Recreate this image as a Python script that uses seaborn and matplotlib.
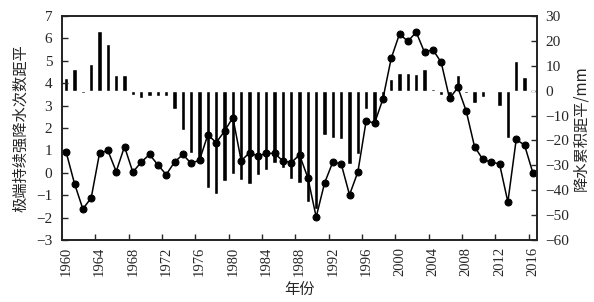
import numpy as np
import pandas as pd
import matplotlib
matplotlib.use("Agg")
import matplotlib.pyplot as plt
import seaborn as sns

years = list(range(1960, 2017))

# 极端持续强降水次数距平 (left axis, line)
count_anomaly = [0.92, -0.48, -1.61, -1.12, 0.87, 1.00, 0.06, 1.17, 0.03, 0.48,
                 0.82, 0.36, -0.08, 0.48, 0.82, 0.42, 0.57, 1.70, 1.35, 1.86,
                 2.47, 0.54, 0.90, 0.75, 0.87, 0.87, 0.53, 0.46, 0.80, -0.22,
                 -1.97, -0.46, 0.49, 0.40, -0.98, 0.04, 2.33, 2.21, 3.29, 5.11,
                 6.20, 5.87, 6.28, 5.38, 5.50, 4.93, 3.32, 3.81, 2.76, 1.17,
                 0.60, 0.48, 0.40, -1.30, 1.49, 1.24, 0.00]

# 降水累积距平/mm (right axis, bars)
precip_anomaly = [5.1, 8.7, -0.8, 10.7, 24.0, 18.7, 6.4, 6.4, -1.7, -2.9,
                  -2.3, -2.0, -2.0, -7.2, -15.9, -25.2, -29.0, -39.0, -41.6, -36.3,
                  -33.6, -35.8, -37.3, -33.9, -32.0, -28.9, -31.2, -35.5, -37.0, -44.8,
                  -47.5, -17.9, -18.9, -19.2, -29.6, -25.6, -7.4, -12.0, -3.0, 4.8,
                  7.1, 7.0, 6.7, 8.9, 0.6, -1.6, -3.6, 6.4, -0.8, -4.9,
                  -2.7, -0.4, -6.0, -19.0, 12.0, 5.7, 0.0]

left_ticks = list(range(-3, 8))
right_ticks = list(range(-60, 31, 10))
year_labels = list(range(1960, 2017, 4))

sns.set_style("ticks")
plt.rcParams['font.family'] = ['Liberation Serif', 'Noto Sans CJK SC']
plt.rcParams['axes.unicode_minus'] = True

df = pd.DataFrame({"year": years, "count": count_anomaly, "precip": precip_anomaly})

fig = plt.figure(figsize=(5.94, 3.02), dpi=100)
ax1 = fig.add_axes([0.1044, 0.205, 0.7997, 0.742])
ax2 = ax1.twinx()

sns.barplot(data=df, x="year", y="precip", ax=ax2, native_scale=True,
            color="black", saturation=1, width=0.5, errorbar=None)
sns.lineplot(data=df, x="year", y="count", ax=ax1, color="black",
             marker="o", markersize=5, linewidth=1.1,
             markeredgecolor="black", markerfacecolor="black")

ax1.set_zorder(ax2.get_zorder() + 1)
ax1.patch.set_visible(False)

ax1.set_xlim(1959.5, 2016.5)
ax2.set_xlim(1959.5, 2016.5)
ax1.set_ylim(-3, 7)
ax2.set_ylim(-60, 30)

ax1.set_yticks(left_ticks)
ax1.set_yticklabels([str(v).replace('-', '\u2212') for v in left_ticks])
ax2.set_yticks(right_ticks)
ax2.set_yticklabels([str(v).replace('-', '\u2212') for v in right_ticks])

ax1.set_xticks(year_labels)
ax1.set_xticklabels([str(y) for y in year_labels], rotation=90)
ax1.set_xticks([y + 3.5 for y in year_labels[:-1]], minor=True)
ax1.tick_params(axis="x", which="major", length=0, pad=5, labelsize=10.5)
ax1.tick_params(axis="x", which="minor", direction="in", length=4, width=1, top=False)
ax2.tick_params(axis="x", which="both", bottom=False, top=False, labelbottom=False)
ax1.tick_params(axis="y", direction="in", length=4, width=1, labelsize=11, pad=7)
ax2.tick_params(axis="y", direction="in", length=4, width=1, labelsize=11, pad=6)

for ax in (ax1, ax2):
    for s in ax.spines.values():
        s.set_linewidth(1.2)
        s.set_color("#222222")
        s.set_visible(True)

ax1.set_xlabel("年份", fontsize=11, family=['Noto Sans CJK SC'], labelpad=3)
ax1.set_ylabel("极端持续强降水次数距平", fontsize=11, family=['Noto Sans CJK SC'], labelpad=5)
ax2.set_ylabel("降水累积距平/mm", fontsize=11, family=['Noto Sans CJK SC', 'Liberation Serif'], labelpad=2)

fig.savefig("out.png", dpi=100)
